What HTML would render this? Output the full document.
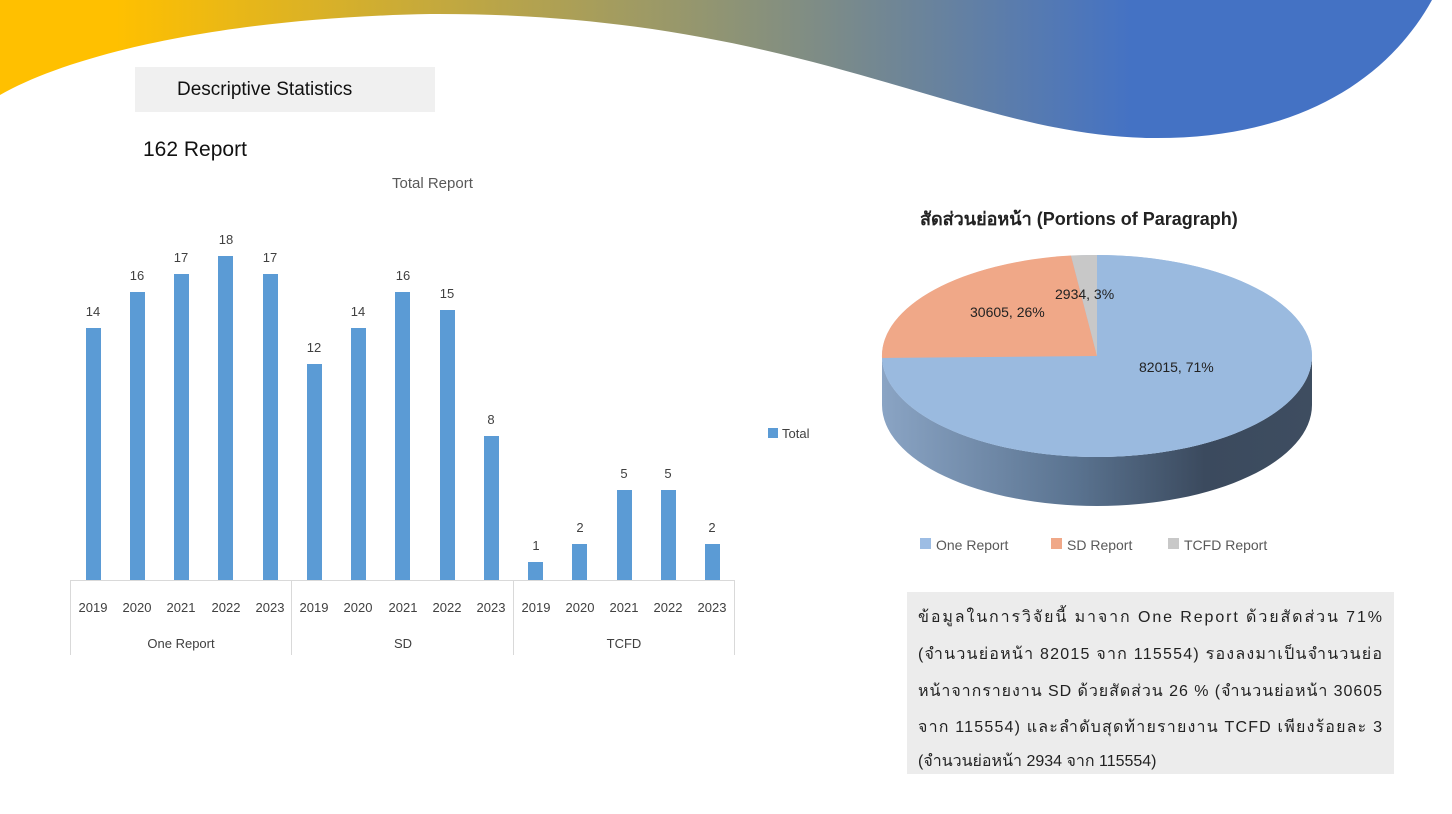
<!DOCTYPE html>
<html><head><meta charset="utf-8"><style>
body{margin:0;width:1452px;height:814px;background:#fff;overflow:hidden;position:relative;font-family:"Liberation Sans","Noto Sans CJK SC",sans-serif}
.abs{position:absolute}
</style></head><body>
<svg class="abs" style="left:0;top:0" width="1452" height="814" viewBox="0 0 1452 814">
<defs>
<linearGradient id="bg" x1="0" x2="1452" y1="0" y2="0" gradientUnits="userSpaceOnUse">
<stop offset="0.08" stop-color="#ffc000"/><stop offset="0.5" stop-color="#8f9474"/><stop offset="0.78" stop-color="#4472c4"/><stop offset="1" stop-color="#4472c4"/>
</linearGradient>
<linearGradient id="side" x1="882" x2="1312" y1="0" y2="0" gradientUnits="userSpaceOnUse">
<stop offset="0" stop-color="#8aa4c4"/><stop offset="0.45" stop-color="#5a7390"/><stop offset="0.75" stop-color="#3b4a5e"/><stop offset="1" stop-color="#3e4d60"/>
</linearGradient>
</defs>
<path d="M0,0 L1432,0 C1385,85 1290,140 1150,138 C960,135 800,12 430,14 C220,18 70,55 0,95 Z" fill="url(#bg)"/>
<rect x="135" y="67" width="300" height="45" fill="#f0f0f0"/>
<text x="177" y="95" font-size="19" fill="#111">Descriptive Statistics</text>
<text x="143" y="156" font-size="21" fill="#111">162 Report</text>
<text x="392" y="188" font-size="15" fill="#595959">Total Report</text>
<g fill="#5b9bd5">
<rect x="86" y="328" width="15" height="252"/><rect x="130" y="292" width="15" height="288"/><rect x="174" y="274" width="15" height="306"/><rect x="218" y="256" width="15" height="324"/><rect x="263" y="274" width="15" height="306"/>
<rect x="307" y="364" width="15" height="216"/><rect x="351" y="328" width="15" height="252"/><rect x="395" y="292" width="15" height="288"/><rect x="440" y="310" width="15" height="270"/><rect x="484" y="436" width="15" height="144"/>
<rect x="528" y="562" width="15" height="18"/><rect x="572" y="544" width="15" height="36"/><rect x="617" y="490" width="15" height="90"/><rect x="661" y="490" width="15" height="90"/><rect x="705" y="544" width="15" height="36"/>
</g>
<g font-size="13" fill="#404040" text-anchor="middle">
<text x="93" y="316">14</text><text x="137" y="280">16</text><text x="181" y="262">17</text><text x="226" y="244">18</text><text x="270" y="262">17</text>
<text x="314" y="352">12</text><text x="358" y="316">14</text><text x="403" y="280">16</text><text x="447" y="298">15</text><text x="491" y="424">8</text>
<text x="536" y="550">1</text><text x="580" y="532">2</text><text x="624" y="478">5</text><text x="668" y="478">5</text><text x="712" y="532">2</text>
</g>
<g stroke="#d9d9d9" stroke-width="1" fill="none">
<line x1="70" y1="580.5" x2="735" y2="580.5"/>
<line x1="70.5" y1="580" x2="70.5" y2="655"/><line x1="291.5" y1="580" x2="291.5" y2="655"/><line x1="513.5" y1="580" x2="513.5" y2="655"/><line x1="734.5" y1="580" x2="734.5" y2="655"/>
</g>
<g font-size="13" fill="#404040" text-anchor="middle">
<text x="93" y="612">2019</text><text x="137" y="612">2020</text><text x="181" y="612">2021</text><text x="226" y="612">2022</text><text x="270" y="612">2023</text>
<text x="314" y="612">2019</text><text x="358" y="612">2020</text><text x="403" y="612">2021</text><text x="447" y="612">2022</text><text x="491" y="612">2023</text>
<text x="536" y="612">2019</text><text x="580" y="612">2020</text><text x="624" y="612">2021</text><text x="668" y="612">2022</text><text x="712" y="612">2023</text>
<text x="181" y="648">One Report</text><text x="403" y="648">SD</text><text x="624" y="648">TCFD</text>
</g>
<rect x="768" y="428" width="10" height="10" fill="#5b9bd5"/>
<text x="782" y="438" font-size="13" fill="#404040">Total</text>
<text x="920" y="225" font-size="18" fill="#222" font-weight="bold">สัดส่วนย่อหน้า (Portions of Paragraph)</text>
<path d="M882,356 A215,101 0 0 0 1312,356 L1312,405 A215,101 0 0 1 882,405 Z" fill="url(#side)"/>
<ellipse cx="1097" cy="356" rx="215" ry="101" fill="#9dbde4"/>
<path d="M1097,356 L1097,255 A215,101 0 1 1 882,358 Z" fill="#9abadf"/>
<path d="M1097,356 L882,358 A215,101 0 0 1 1071,255.5 Z" fill="#f0a888"/>
<path d="M1097,356 L1071,255.5 A215,101 0 0 1 1097,255 Z" fill="#c8c8c8"/>
<g font-size="14" fill="#222">
<text x="1055" y="299">2934, 3%</text><text x="970" y="317">30605, 26%</text><text x="1139" y="372">82015, 71%</text>
</g>
<g font-size="14" fill="#595959">
<rect x="920" y="538" width="11" height="11" fill="#9dbde4"/><text x="936" y="550">One Report</text>
<rect x="1051" y="538" width="11" height="11" fill="#f0a888"/><text x="1067" y="550">SD Report</text>
<rect x="1168" y="538" width="11" height="11" fill="#c8c8c8"/><text x="1184" y="550">TCFD Report</text>
</g>
<rect x="907" y="592" width="487" height="182" fill="#ececec"/>
<g font-size="16" fill="#222" font-family="Liberation Sans, Noto Sans CJK SC, sans-serif">
<text x="918" y="622" textLength="464" lengthAdjust="spacing">ข้อมูลในการวิจัยนี้ มาจาก One Report ด้วยสัดส่วน 71%</text>
<text x="918" y="659" textLength="464" lengthAdjust="spacing">(จำนวนย่อหน้า 82015 จาก 115554) รองลงมาเป็นจำนวนย่อ</text>
<text x="918" y="696" textLength="464" lengthAdjust="spacing">หน้าจากรายงาน SD ด้วยสัดส่วน 26 % (จำนวนย่อหน้า 30605</text>
<text x="918" y="732" textLength="464" lengthAdjust="spacing">จาก 115554) และลำดับสุดท้ายรายงาน TCFD เพียงร้อยละ 3</text>
<text x="918" y="766">(จำนวนย่อหน้า 2934 จาก 115554)</text>
</g>
</svg>
</body></html>
